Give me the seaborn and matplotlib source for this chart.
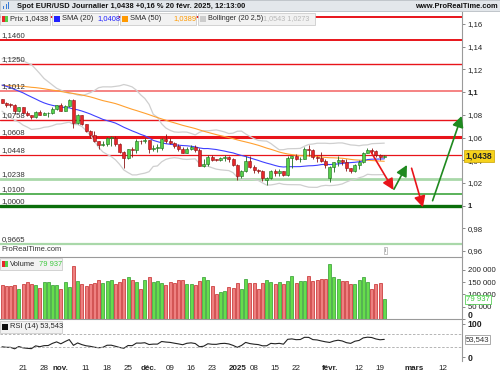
import matplotlib
matplotlib.use("Agg")
import matplotlib.pyplot as plt
from matplotlib.patches import Rectangle
from matplotlib.transforms import ScaledTranslation
import seaborn as sns
import numpy as np
import pandas as pd

# --- data -------------------------------------------------------------
# closes before the visible window (only feed the SMA / Bollinger / RSI)
pre_close = [1.0953, 1.0930, 1.0922, 1.0920, 1.0917, 1.0932, 1.0992, 1.1012, 1.0967, 1.1028,
             1.1084, 1.1130, 1.1152, 1.1113, 1.1192, 1.1162, 1.1184, 1.1120, 1.1077, 1.1047,
             1.1073, 1.1045, 1.1087, 1.1111, 1.1085, 1.1026, 1.1018, 1.1011, 1.1075, 1.1076,
             1.1132, 1.1115, 1.1118, 1.1162, 1.1164, 1.1111, 1.1180, 1.1134, 1.1177, 1.1163,
             1.1135, 1.1067, 1.1045, 1.1031, 1.0974, 1.0975, 1.0978, 1.0942, 1.0936, 1.0936]

opens = [1.0935, 1.0908, 1.0890, 1.0889, 1.0832, 1.0867, 1.0817, 1.0796, 1.0782, 1.0827,
         1.0797, 1.0815, 1.0817, 1.0855, 1.0884, 1.0833, 1.0880, 1.0930, 1.0728, 1.0800,
         1.0720, 1.0656, 1.0623, 1.0565, 1.0530, 1.0541, 1.0598, 1.0600, 1.0544, 1.0472,
         1.0418, 1.0495, 1.0487, 1.0568, 1.0565, 1.0577, 1.0498, 1.0510, 1.0510, 1.0587,
         1.0567, 1.0554, 1.0526, 1.0499, 1.0466, 1.0502, 1.0513, 1.0490, 1.0351, 1.0364,
         1.0428, 1.0406, 1.0403, 1.0422, 1.0428, 1.0407, 1.0354, 1.0265, 1.0308, 1.0391,
         1.0344, 1.0318, 1.0301, 1.0225, 1.0246, 1.0307, 1.0291, 1.0302, 1.0272, 1.0417,
         1.0433, 1.0409, 1.0414, 1.0495, 1.0493, 1.0430, 1.0420, 1.0390, 1.0240, 1.0342,
         1.0380, 1.0403, 1.0381, 1.0330, 1.0307, 1.0362, 1.0384, 1.0467, 1.0492, 1.0484,
         1.0448, 1.0426]
highs = [1.0940, 1.0915, 1.0900, 1.0893, 1.0870, 1.0870, 1.0830, 1.0800, 1.0835, 1.0840,
         1.0826, 1.0825, 1.0870, 1.0890, 1.0905, 1.0890, 1.0937, 1.0935, 1.0805, 1.0802,
         1.0722, 1.0665, 1.0653, 1.0570, 1.0570, 1.0605, 1.0610, 1.0610, 1.0548, 1.0478,
         1.0500, 1.0515, 1.0588, 1.0580, 1.0595, 1.0580, 1.0530, 1.0545, 1.0595, 1.0630,
         1.0595, 1.0560, 1.0540, 1.0515, 1.0520, 1.0530, 1.0530, 1.0505, 1.0410, 1.0445,
         1.0445, 1.0415, 1.0425, 1.0445, 1.0435, 1.0420, 1.0365, 1.0315, 1.0437, 1.0435,
         1.0355, 1.0320, 1.0315, 1.0250, 1.0315, 1.0325, 1.0320, 1.0305, 1.0435, 1.0440,
         1.0455, 1.0430, 1.0520, 1.0533, 1.0495, 1.0440, 1.0470, 1.0410, 1.0345, 1.0385,
         1.0440, 1.0410, 1.0410, 1.0335, 1.0370, 1.0400, 1.0470, 1.0510, 1.0505, 1.0490,
         1.0455, 1.0445]
lows = [1.0902, 1.0872, 1.0865, 1.0810, 1.0825, 1.0812, 1.0790, 1.0761, 1.0775, 1.0795,
        1.0795, 1.0785, 1.0805, 1.0845, 1.0830, 1.0830, 1.0870, 1.0682, 1.0715, 1.0710,
        1.0650, 1.0595, 1.0557, 1.0497, 1.0525, 1.0525, 1.0525, 1.0525, 1.0460, 1.0335,
        1.0410, 1.0425, 1.0460, 1.0545, 1.0555, 1.0460, 1.0480, 1.0470, 1.0490, 1.0555,
        1.0545, 1.0510, 1.0480, 1.0460, 1.0460, 1.0490, 1.0475, 1.0345, 1.0343, 1.0345,
        1.0390, 1.0390, 1.0395, 1.0390, 1.0385, 1.0345, 1.0225, 1.0240, 1.0300, 1.0335,
        1.0290, 1.0285, 1.0215, 1.0178, 1.0235, 1.0265, 1.0265, 1.0265, 1.0265, 1.0335,
        1.0400, 1.0380, 1.0410, 1.0440, 1.0410, 1.0380, 1.0380, 1.0335, 1.0210, 1.0295,
        1.0345, 1.0355, 1.0305, 1.0285, 1.0300, 1.0320, 1.0375, 1.0465, 1.0460, 1.0430,
        1.0400, 1.0420]
closes = [1.0908, 1.0890, 1.0889, 1.0832, 1.0867, 1.0817, 1.0796, 1.0782, 1.0827, 1.0797,
          1.0815, 1.0817, 1.0855, 1.0884, 1.0833, 1.0880, 1.0930, 1.0728, 1.0800, 1.0720,
          1.0656, 1.0623, 1.0565, 1.0530, 1.0541, 1.0598, 1.0600, 1.0544, 1.0472, 1.0418,
          1.0495, 1.0487, 1.0568, 1.0565, 1.0577, 1.0498, 1.0510, 1.0510, 1.0587, 1.0567,
          1.0554, 1.0526, 1.0499, 1.0466, 1.0502, 1.0513, 1.0490, 1.0351, 1.0364, 1.0428,
          1.0406, 1.0403, 1.0422, 1.0428, 1.0407, 1.0354, 1.0265, 1.0308, 1.0391, 1.0344,
          1.0318, 1.0301, 1.0245, 1.0246, 1.0307, 1.0291, 1.0302, 1.0272, 1.0417, 1.0433,
          1.0409, 1.0414, 1.0495, 1.0493, 1.0430, 1.0420, 1.0390, 1.0362, 1.0342, 1.0380,
          1.0403, 1.0381, 1.0330, 1.0307, 1.0362, 1.0384, 1.0467, 1.0492, 1.0484, 1.0448,
          1.0426, 1.0438]
volume_k = [139, 135, 135, 137, 122, 143, 150, 142, 137, 127,
            150, 150, 139, 139, 122, 150, 131, 216, 155, 144,
            135, 144, 147, 159, 147, 155, 159, 143, 152, 165,
            170, 159, 152, 124, 158, 170, 151, 155, 146, 139,
            151, 147, 159, 159, 143, 143, 137, 155, 170, 159,
            135, 102, 110, 116, 131, 127, 146, 124, 165, 146,
            146, 124, 146, 158, 150, 142, 150, 142, 155, 174,
            147, 155, 155, 177, 155, 159, 163, 165, 224, 170,
            162, 155, 155, 143, 142, 159, 170, 150, 122, 142,
            146, 79.937]

holidays = ["2024-12-25", "2025-01-01"]

res_levels = [1.1660, 1.1460, 1.1250, 1.1012, 1.0758, 1.0608, 1.0448]
res_labels = ["", "1,1460", "1,1250", "1,1012", "1,0758", "1,0608", "1,0448"]
sup_levels = [1.0238, 1.0100, 1.0000, 0.9665]
sup_labels = ["1,0238", "1,0100", "1,0000", "0,9665"]

price_ticks = [0.96, 0.98, 1.00, 1.02, 1.04, 1.06, 1.08, 1.10, 1.12, 1.14, 1.16]
price_tick_labels = ["0,96", "0,98", "1", "1,02", "1,04", "1,06", "1,08", "1,1", "1,12", "1,14", "1,16"]
vol_ticks = [0, 50000, 100000, 150000, 200000]
vol_tick_labels = ["0", "50 000", "100 000", "150 000", "200 000"]

date_ticks = ["2024-10-21", "2024-10-28", "2024-11-01", "2024-11-11", "2024-11-18", "2024-11-25",
              "2024-12-02", "2024-12-09", "2024-12-16", "2024-12-23", "2025-01-02", "2025-01-08",
              "2025-01-15", "2025-01-22", "2025-02-03", "2025-02-12", "2025-02-19", "2025-03-03",
              "2025-03-12"]
date_labels = ["21", "28", "nov.", "11", "18", "25", "déc.", "09", "16", "23", "2025", "08",
               "15", "22", "févr.", "12", "19", "mars", "12"]
month_labels = {"nov.", "déc.", "2025", "févr.", "mars"}

# scenario arrows drawn on the chart: (x from, price from, x to, price to, colour)
arrows = [(87.8, 1.0475, 93.2, 1.0138, "#e8141a"),
          (93.3, 1.0144, 96.4, 1.0358, "#1f8a1f"),
          (97.5, 1.0329, 100.2, 0.9985, "#e8141a"),
          (102.5, 1.0043, 109.4, 1.0790, "#1f8a1f")]

# --- indicators -------------------------------------------------------
n = len(closes)
full = pd.Series(pre_close + closes)
sma20 = full.rolling(20).mean()
sma50 = full.rolling(50).mean()
sd20 = full.rolling(20).std(ddof=0)
delta = full.diff()
gain = delta.clip(lower=0).ewm(alpha=1 / 14, adjust=False).mean()
loss = (-delta.clip(upper=0)).ewm(alpha=1 / 14, adjust=False).mean()
rsi = 100 - 100 / (1 + gain / loss)

df = pd.DataFrame({
    "x": np.arange(n),
    "open": opens, "high": highs, "low": lows, "close": closes,
    "volume": np.array(volume_k) * 1000,
    "sma20": sma20.iloc[-n:].values,
    "sma50": sma50.iloc[-n:].values,
    "bb_up": (sma20 + 2.5 * sd20).iloc[-n:].values,
    "bb_lo": (sma20 - 2.5 * sd20).iloc[-n:].values,
    "rsi": rsi.iloc[-n:].values,
})
up = df["close"] >= df["open"]

days = pd.bdate_range("2024-10-14", "2025-03-21")
days = days[~days.isin(pd.to_datetime(holidays))]
tick_pos = [days.get_loc(pd.Timestamp(d)) for d in date_ticks]

# --- figure -----------------------------------------------------------
sns.set_theme(style="white")
plt.rcParams["font.family"] = ["Liberation Sans", "DejaVu Sans"]
W, H = 500, 375
fig = plt.figure(figsize=(5, 3.75), dpi=100)


def fbox(x0, y0, x1, y1):
    return [x0 / W, 1 - y1 / H, (x1 - x0) / W, (y1 - y0) / H]


ax = fig.add_axes(fbox(0, 12, 462, 257))
axv = fig.add_axes(fbox(0, 257, 462, 319), sharex=ax)
axr = fig.add_axes(fbox(0, 319, 462, 361), sharex=ax)

for a in (ax, axv, axr):
    a.set_facecolor("white")
    for s in ("left", "bottom", "top"):
        a.spines[s].set_visible(False)
    a.spines["right"].set_color("#9a9a9a")
    a.spines["right"].set_linewidth(0.8)
    a.yaxis.tick_right()
    a.tick_params(axis="y", direction="out", length=2.5, width=0.6, color="#777777",
                  pad=1.5, labelsize=5.6, labelcolor="#222222")
for a in (axv, axr):
    a.spines["top"].set_visible(True)
    a.spines["top"].set_color("#9a9a9a")
    a.spines["top"].set_linewidth(0.8)

ax.set_xlim(-0.48, 109.5)
ax.set_ylim(0.9547, 1.1706)

# Bollinger, SMAs
sns.lineplot(data=df, x="x", y="bb_up", ax=ax, color="#cfcfcf", lw=0.9, zorder=2)
sns.lineplot(data=df, x="x", y="bb_lo", ax=ax, color="#cfcfcf", lw=0.9, zorder=2)
sns.lineplot(data=df, x="x", y="sma50", ax=ax, color="#ffa030", lw=0.8, zorder=2)
sns.lineplot(data=df, x="x", y="sma20", ax=ax, color="#4040ff", lw=0.8, zorder=2)

# support / resistance lines
res_style = [("#e8141a", 1.4), ("#e8141a", 1.4), ("#e8141a", 1.0), ("#f47a7a", 1.3),
             ("#e8141a", 1.0), ("#e8141a", 2.2), ("#e8141a", 0.9)]
sup_style = [("#a9d8a9", 2.0), ("#2e9e2e", 1.1), ("#0a6e0a", 2.4), ("#a9d8a9", 1.6)]
ytr = ax.get_yaxis_transform()
for lev, lab, (col, lw) in zip(res_levels + sup_levels, res_labels + sup_labels, res_style + sup_style):
    ax.axhline(lev, color=col, lw=lw, zorder=1.5)
    if lab:
        ax.text(0.004, lev + 0.0009, lab, transform=ytr, fontsize=5.6, color="#333333",
                va="bottom", ha="left", zorder=6)

# candles
edge = np.where(up, "#1c6b1c", "#8a1414")
fill = np.where(up, "#55d04a", "#e8262a")
ax.vlines(df["x"], df["low"], df["high"], colors=edge, lw=0.6, zorder=3)
body = np.maximum((df["close"] - df["open"]).abs(), 0.0004)
ax.bar(df["x"], body, bottom=np.minimum(df["open"], df["close"]), width=0.72,
       color=fill, edgecolor=edge, linewidth=0.4, zorder=4)

# scenario arrows
for x0, y0, x1, y1, col in arrows:
    ax.annotate("", xy=(x1, y1), xytext=(x0, y0), annotation_clip=False,
                arrowprops=dict(arrowstyle="-|>,head_length=0.55,head_width=0.28",
                                color=col, lw=1.2, shrinkA=0, shrinkB=0), zorder=5)

ax.set_yticks(price_ticks)
ax.set_yticklabels(price_tick_labels)
for t, lab in zip(ax.get_yticklabels(), price_tick_labels):
    if lab in ("1", "1,1"):
        t.set_fontweight("bold")
ax.text(1.008, closes[-1], "1,0438", transform=ytr, fontsize=6.2, fontweight="bold",
        va="center", ha="left", clip_on=False, zorder=10,
        bbox=dict(boxstyle="square,pad=0.2", fc="#f6d21c", ec="#c9a200", lw=0.5))
ax.text(0.004, 0.018, "ProRealTime.com", transform=ax.transAxes,
        fontsize=5.4, color="#333333", va="bottom", zorder=6)
ax.text(0.835, 0.025, "i", transform=ax.transAxes, fontsize=4.5, color="#777777",
        ha="center", va="center",
        bbox=dict(boxstyle="square,pad=0.15", fc="white", ec="#999999", lw=0.4))

# volume
vfill = np.where(up, "#66dd4c", "#ee8080")
vedge = np.where(up, "#2f9a2f", "#c42828")
axv.bar(df["x"], df["volume"], width=0.72, color=vfill, edgecolor=vedge, linewidth=0.5)
axv.set_ylim(0, 253000)
axv.set_yticks(vol_ticks)
axv.set_yticklabels(vol_tick_labels)
zero_lab = axv.get_yticklabels()[0]
zero_lab.set_fontweight("bold")
zero_lab.set_fontsize(6.2)
zero_lab.set_transform(zero_lab.get_transform() + ScaledTranslation(0, 3.2 / 72, fig.dpi_scale_trans))
axv.text(1.008, df["volume"].iloc[-1], "79 937", transform=axv.get_yaxis_transform(),
         fontsize=5.6, color="#3cc83c", va="center", ha="left", clip_on=False, zorder=10,
         bbox=dict(boxstyle="square,pad=0.15", fc="white", ec="#3cc83c", lw=0.5))

# RSI
sns.lineplot(data=df, x="x", y="rsi", ax=axr, color="#222222", lw=0.8)
axr.axhline(70, color="#aaaaaa", lw=0.6, ls=(0, (3, 2)))
axr.axhline(30, color="#aaaaaa", lw=0.6, ls=(0, (3, 2)))
axr.set_ylim(-12, 115)
axr.set_yticks([0, 100])
axr.set_yticklabels(["0", "100"])
for t in axr.get_yticklabels():
    t.set_fontweight("bold")
    t.set_fontsize(6.2)
axr.text(1.008, 53.543, "53,543", transform=axr.get_yaxis_transform(),
         fontsize=5.6, color="#333333", va="center", ha="left", clip_on=False, zorder=10,
         bbox=dict(boxstyle="square,pad=0.15", fc="white", ec="#888888", lw=0.5))

for a in (ax, axv, axr):
    a.set_xlabel("")
    a.set_ylabel("")
    a.tick_params(axis="x", length=0, labelbottom=False)
axr.set_xticks(tick_pos)
axr.set_xticklabels(date_labels)
axr.tick_params(axis="x", labelbottom=True, labelsize=5.8, pad=3, labelcolor="#222222")
for t, lab in zip(axr.get_xticklabels(), date_labels):
    if lab in month_labels:
        t.set_fontweight("bold")
ax.set_xlim(-0.48, 109.5)

# --- header bar and legend boxes (pixel placed) -----------------------
def px(x, y):
    return x / W, 1 - y / H


fig.patches.append(Rectangle(px(0, 11), 1, 11 / H, transform=fig.transFigure,
                             fc="#e3e7eb", ec="#b8bec4", lw=0.6, zorder=8))
for i, xx in enumerate([3, 5.5, 8]):
    fig.patches.append(Rectangle(px(xx, 9), 1.3 / W, (3 + 2 * i) / H, transform=fig.transFigure,
                                 fc="#3a7bd5", ec="none", zorder=9))
fig.text(*px(17, 6), "Spot EUR/USD Journalier 1,0438 +0,16 % 20 févr. 2025, 12:13:00",
         fontsize=5.4, fontweight="bold", va="center", ha="left", color="#111111", zorder=10)
fig.text(*px(498, 6), "www.ProRealTime.com", fontsize=5.4, fontweight="bold",
         va="center", ha="right", color="#111111", zorder=10)


def legend_box(x0, x1, y0, y1):
    fig.patches.append(Rectangle(px(x0, y1), (x1 - x0) / W, (y1 - y0) / H,
                                 transform=fig.transFigure, fc="#f2f2f2", ec="#c4c4c4",
                                 lw=0.5, zorder=8))


def swatch(x, y, colors):
    w = 6 / len(colors)
    for k, c in enumerate(colors):
        fig.patches.append(Rectangle(px(x + k * w, y + 3), w / W, 6 / H,
                                     transform=fig.transFigure, fc=c, ec="none", zorder=9))


legend_y = 19
legend_box(0, 50, 13, 25)
swatch(2, legend_y, ["#e8262a", "#55d04a"])
fig.text(*px(10, legend_y), "Prix 1,0438", fontsize=5.4, va="center", zorder=10)
legend_box(52, 118, 13, 25)
swatch(54, legend_y, ["#2020ff"])
fig.text(*px(62, legend_y), "SMA (20)", fontsize=5.4, va="center", zorder=10)
fig.text(*px(97, legend_y), "1,0408", fontsize=5.4, va="center", color="#2020ff", zorder=10)
legend_box(120, 196, 13, 25)
swatch(122, legend_y, ["#ff9900"])
fig.text(*px(130, legend_y), "SMA (50)", fontsize=5.4, va="center", zorder=10)
fig.text(*px(173, legend_y), "1,0389", fontsize=5.4, va="center", color="#ff9900", zorder=10)
legend_box(198, 315, 13, 25)
swatch(200, legend_y, ["#cccccc"])
fig.text(*px(208, legend_y), "Bollinger (20 2,5)", fontsize=5.2, va="center", zorder=10)
fig.text(*px(263, legend_y), "1,0543 1,0273", fontsize=5.2, va="center", color="#b8b8b8", zorder=10)

legend_box(0, 62, 258, 270)
swatch(2, 264, ["#e8262a", "#55d04a"])
fig.text(*px(10, 264), "Volume", fontsize=5.4, va="center", zorder=10)
fig.text(*px(39, 264), "79 937", fontsize=5.4, va="center", color="#3cc83c", zorder=10)
legend_box(0, 62, 321, 333)
swatch(2, 327, ["#111111"])
fig.text(*px(10, 327), "RSI (14) 53,543", fontsize=5.4, va="center", zorder=10)

fig.savefig("out.png", dpi=100, facecolor="white")
